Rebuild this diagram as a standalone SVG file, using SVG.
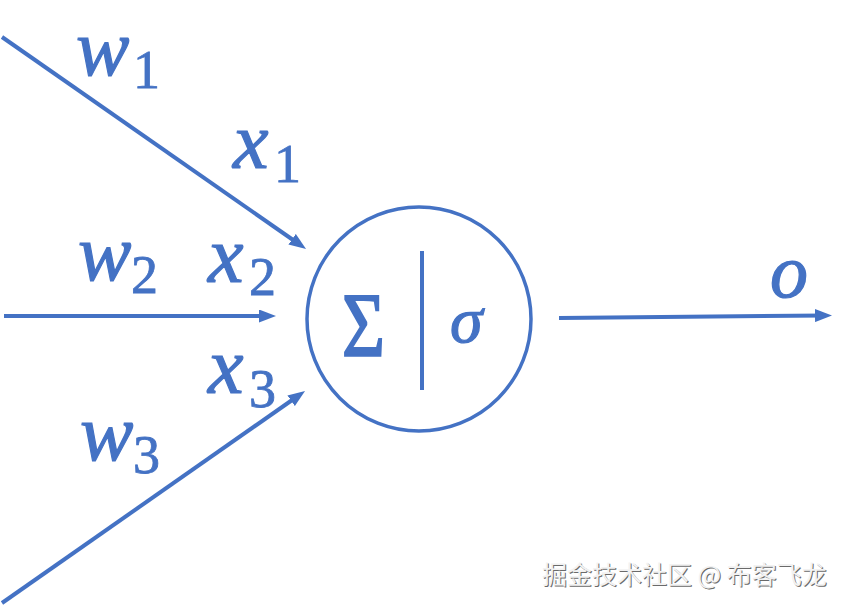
<svg xmlns="http://www.w3.org/2000/svg" width="845" height="606" viewBox="0 0 845 606">
<style>
.edge{stroke:#4472C4;stroke-width:4;fill:none}
.var{font-family:"Liberation Serif",serif;font-style:italic;fill:#4472C4;stroke:#4472C4;stroke-width:1.2}
.sub{font-family:"Liberation Serif",serif;fill:#4472C4;stroke:#4472C4;stroke-width:0.8;font-size:54px}
.wm{font-family:"Noto Sans CJK SC",sans-serif;font-size:25px}
</style>
<defs>
<marker id="ah" markerUnits="userSpaceOnUse" markerWidth="17" markerHeight="13" refX="10" refY="6.5" orient="auto">
<path d="M0,0 L17,6.5 L0,13 z" fill="#4472C4"/>
</marker>
</defs>
<rect width="845" height="606" fill="#ffffff"/>
<g id="connectors">
<line class="edge" x1="2" y1="37" x2="300.3" y2="245" marker-end="url(#ah)"/>
<line class="edge" x1="4" y1="316" x2="269" y2="316" marker-end="url(#ah)"/>
<line class="edge" x1="2" y1="603" x2="299.3" y2="395" marker-end="url(#ah)"/>
<line class="edge" x1="559" y1="318" x2="825" y2="315.5" marker-end="url(#ah)"/>
</g>
<g id="neuron">
<circle cx="419" cy="319" r="112" fill="none" stroke="#4472C4" stroke-width="3.5"/>
<line x1="422" y1="251" x2="422" y2="390" stroke="#4472C4" stroke-width="4"/>
<text x="342" y="356" font-family="Liberation Serif,serif" font-size="92" fill="#4472C4" stroke="#4472C4" stroke-width="2" textLength="43" lengthAdjust="spacingAndGlyphs">Σ</text>
<text class="var" x="450" y="342" font-size="66">σ</text>
</g>
<g id="label-w1"><text class="var" x="76" y="75" font-size="80">w</text><text class="sub" x="133" y="88">1</text></g>
<g id="label-x1"><text class="var" x="233" y="168" font-size="80">x</text><text class="sub" x="274" y="182">1</text></g>
<g id="label-w2"><text class="var" x="78" y="280" font-size="80">w</text><text class="sub" x="131" y="293">2</text></g>
<g id="label-x2"><text class="var" x="208" y="282" font-size="80">x</text><text class="sub" x="249" y="295">2</text></g>
<g id="label-x3"><text class="var" x="208" y="393" font-size="80">x</text><text class="sub" x="249" y="407">3</text></g>
<g id="label-w3"><text class="var" x="80" y="460" font-size="80">w</text><text class="sub" x="133" y="473">3</text></g>
<g id="label-o"><text class="var" x="770" y="297" font-size="76">o</text></g>
<g id="watermark">
<text class="wm" x="543" y="585" fill="#6a6a6a">掘金技术社区 @ 布客飞龙</text>
<text class="wm" x="542" y="584" fill="#f2f2f2">掘金技术社区 @ 布客飞龙</text>
</g>
</svg>
